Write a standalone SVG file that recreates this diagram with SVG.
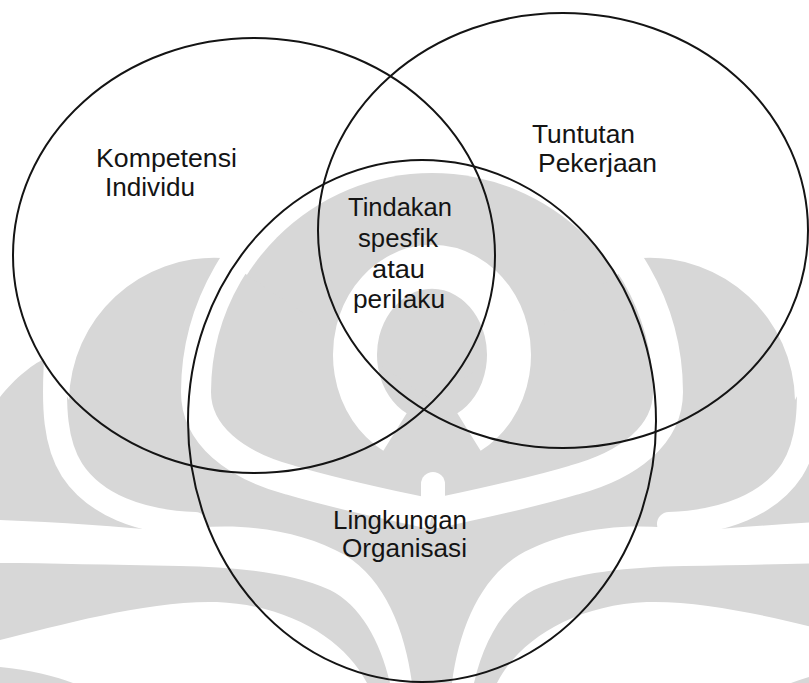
<svg xmlns="http://www.w3.org/2000/svg" width="809" height="683" viewBox="0 0 809 683">
<style>
.wm{fill:#d7d7d7}
.wf{fill:#ffffff}
.ws{fill:none;stroke:#ffffff}
.ring{fill:none;stroke:#141414;stroke-width:2}
.lbl{font-family:"Liberation Sans",Arial,sans-serif;font-size:25px;fill:#141414}
</style>
<defs>
<g id="wmBase">
<path class="wm" d="M222,258 A145,145 0 0 0 69,400 L47,358 C35,362 15,378 0,397 L0,683 L432,683 L432,400 Z"/>
</g>
<g id="wmCut">
<path class="ws" stroke-width="30" d="M314,188 A236,236 0 0 0 196,392 C196,435 235,465 290,480 C340,495 400,507 432,514"/>
<path class="ws" stroke-width="24" stroke-linecap="round" d="M57,347 C52,410 56,445 72,470 C95,505 140,522 195,524"/>
<path class="wf" d="M0,520 C60,522 120,527 170,531 C240,520 300,530 345,555 C385,580 405,630 412,683 L390,683 C380,640 360,605 330,590 C290,572 233,567 180,566 C110,565 50,563 0,563 Z"/>
<path class="wf" d="M0,640 C60,625 150,600 217,602 C290,605 345,640 367,683 L0,683 Z"/>
<path class="wm" d="M0,667 C30,670 55,676 73,683 L0,683 Z"/>
</g>
</defs>
<rect width="809" height="683" fill="#ffffff"/>
<g id="watermark">
<circle class="wm" cx="432" cy="392" r="219"/>
<use href="#wmBase"/>
<use href="#wmBase" transform="translate(864,0) scale(-1,1)"/>
<use href="#wmCut"/>
<use href="#wmCut" transform="translate(864,0) scale(-1,1)"/>
<path class="ws" stroke-width="44" d="M395,432 A77,88 0 1 1 469,432"/>
<rect class="wf" x="421" y="472" width="24" height="46" rx="12"/>
</g>
<g id="connectors"></g>
<g id="node-kompetensi">
<ellipse class="ring" cx="254" cy="255.5" rx="241" ry="217.5"/>
<text class="lbl" x="96" y="167" textLength="141" lengthAdjust="spacingAndGlyphs">Kompetensi</text>
<text class="lbl" x="105" y="196" textLength="90" lengthAdjust="spacingAndGlyphs">Individu</text>
</g>
<g id="node-tuntutan">
<ellipse class="ring" cx="563" cy="230.5" rx="245" ry="217.5"/>
<text class="lbl" x="532" y="143" textLength="103" lengthAdjust="spacingAndGlyphs">Tuntutan</text>
<text class="lbl" x="538" y="172" textLength="119" lengthAdjust="spacingAndGlyphs">Pekerjaan</text>
</g>
<g id="node-lingkungan">
<ellipse class="ring" cx="422" cy="421" rx="234" ry="261"/>
<text class="lbl" x="333" y="529" textLength="134" lengthAdjust="spacingAndGlyphs">Lingkungan</text>
<text class="lbl" x="342" y="557" textLength="125" lengthAdjust="spacingAndGlyphs">Organisasi</text>
</g>
<g id="node-tindakan">
<text class="lbl" x="348" y="216" textLength="104" lengthAdjust="spacingAndGlyphs">Tindakan</text>
<text class="lbl" x="358" y="247" textLength="80" lengthAdjust="spacingAndGlyphs">spesfik</text>
<text class="lbl" x="372" y="278" textLength="53" lengthAdjust="spacingAndGlyphs">atau</text>
<text class="lbl" x="353" y="308" textLength="92" lengthAdjust="spacingAndGlyphs">perilaku</text>
</g>
</svg>
